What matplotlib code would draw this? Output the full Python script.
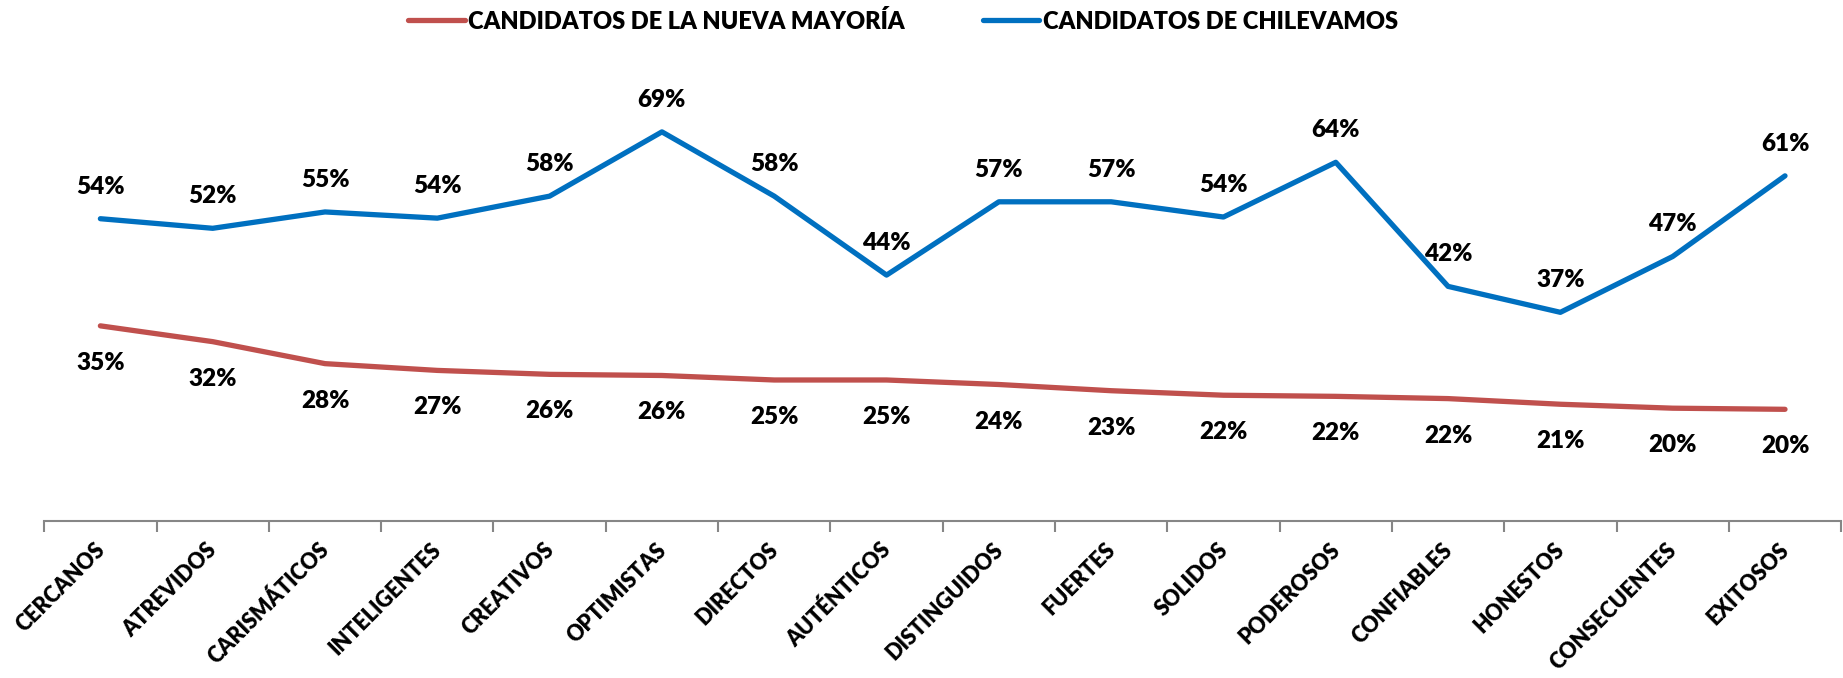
import matplotlib
matplotlib.use("Agg")
import matplotlib.pyplot as plt
from matplotlib.ticker import FixedLocator
from matplotlib.transforms import ScaledTranslation

categories = ["CERCANOS", "ATREVIDOS", "CARISMÁTICOS", "INTELIGENTES", "CREATIVOS",
              "OPTIMISTAS", "DIRECTOS", "AUTÉNTICOS", "DISTINGUIDOS", "FUERTES",
              "SOLIDOS", "PODEROSOS", "CONFIABLES", "HONESTOS", "CONSECUENTES", "EXITOSOS"]
nueva_mayoria = [34.6, 31.8, 27.9, 26.7, 26.0, 25.8, 25.0, 25.0, 24.2, 23.1,
                 22.3, 22.1, 21.7, 20.7, 20.0, 19.8]
chilevamos = [53.6, 51.9, 54.8, 53.7, 57.6, 69.0, 57.6, 43.6, 56.6, 56.6,
              53.9, 63.6, 41.6, 37.0, 46.9, 61.2]
series_names = ["CANDIDATOS DE LA NUEVA MAYORÍA", "CANDIDATOS DE CHILEVAMOS"]

RED = "#C0504D"
BLUE = "#0070C0"
FONT = "Lato"
WEIGHT = "heavy"

fig = plt.figure(figsize=(18.43, 6.78), dpi=100)
ax = fig.add_axes([0.024, 0.2316, 0.975, 0.6654])

x = list(range(len(categories)))
l1, = ax.plot(x, nueva_mayoria, color=RED, lw=3.8, solid_capstyle="round",
              solid_joinstyle="round", label=series_names[0])
l2, = ax.plot(x, chilevamos, color=BLUE, lw=3.8, solid_capstyle="round",
              solid_joinstyle="round", label=series_names[1])

for xi, v in zip(x, nueva_mayoria):
    ax.annotate(f"{v:.0f}%", (xi, v), xytext=(0, -37), textcoords="offset pixels",
                ha="center", va="center", fontsize=17.5, fontweight=WEIGHT,
                family=FONT, color="black")
for xi, v in zip(x, chilevamos):
    ax.annotate(f"{v:.0f}%", (xi, v), xytext=(0, 32), textcoords="offset pixels",
                ha="center", va="center", fontsize=17.5, fontweight=WEIGHT,
                family=FONT, color="black")

ax.set_xlim(-0.5, len(categories) - 0.5)
ax.set_ylim(0, 80)
ax.set_yticks([])
for s in ["left", "right", "top"]:
    ax.spines[s].set_visible(False)
ax.spines["bottom"].set_color("#868686")
ax.spines["bottom"].set_linewidth(1.5)

ax.set_xticks(x)
ax.set_xticklabels(categories, rotation=45, ha="right", va="center",
                   rotation_mode="anchor", fontsize=15.5, fontweight=WEIGHT,
                   family=FONT)
ax.tick_params(axis="x", which="major", length=0, pad=18.5)
shift = ScaledTranslation(1 / 100, 0, fig.dpi_scale_trans)
for lab in ax.get_xticklabels():
    lab.set_transform(lab.get_transform() + shift)
ax.xaxis.set_minor_locator(FixedLocator([i - 0.5 for i in range(len(categories) + 1)]))
ax.tick_params(axis="x", which="minor", length=8, width=1.5, color="#868686")

fig.legend(handles=[l1, l2], loc="center", bbox_to_anchor=(0.490, 0.969), ncol=2,
           frameon=False, prop={"family": FONT, "weight": WEIGHT, "size": 17},
           handlelength=2.4, handletextpad=0.15, columnspacing=3.3)

fig.savefig("out.png", dpi=100, facecolor="white")
